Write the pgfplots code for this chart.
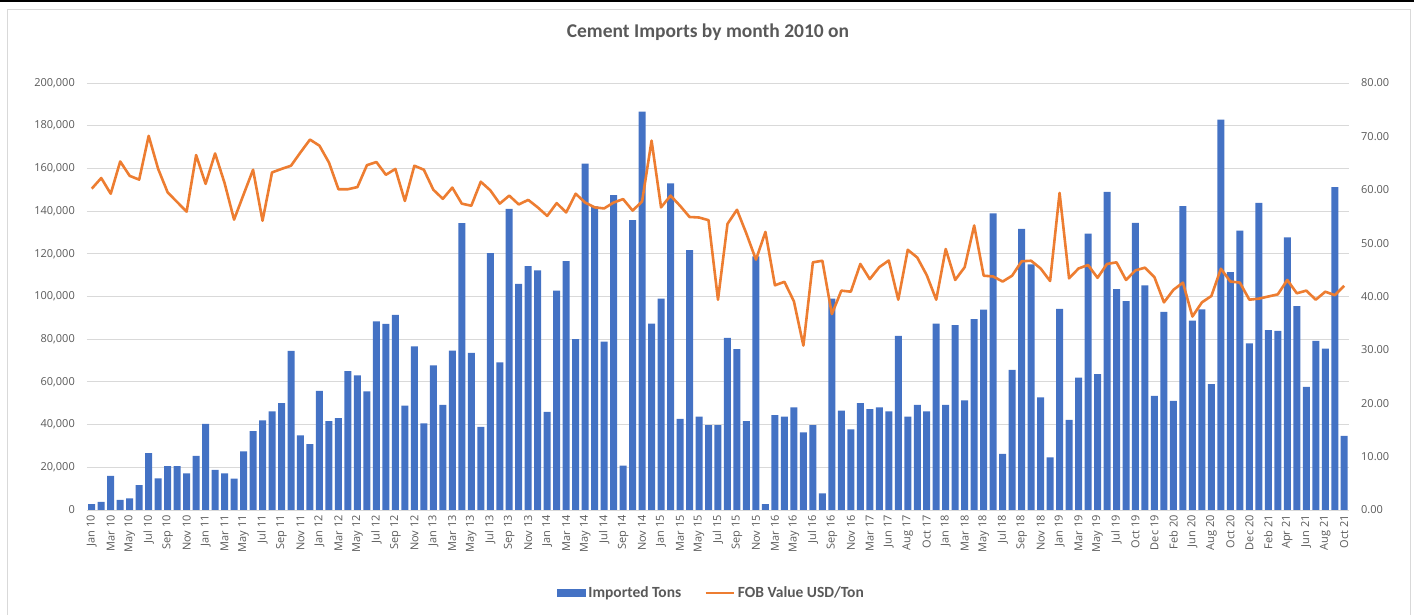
\documentclass[border=0pt]{standalone}
\usepackage{pgfplots}
\usepackage{pgfplotstable}
\pgfplotsset{compat=1.18}
\usepackage{fontspec}
\setmainfont{Carlito}
\newfontfamily\tickfont{Open Sans}
\definecolor{barblue}{HTML}{4472C4}
\definecolor{lineorange}{HTML}{ED7D31}
\definecolor{txtgray}{HTML}{595959}
\definecolor{gridgray}{HTML}{D9D9D9}
\pgfplotstableread{
i tons fob
0 2800 60.2
1 3750 62.2
2 16000 59.25
3 4700 65.3
4 5500 62.6
5 11600 61.9
6 26600 70.1
7 14800 63.9
8 20600 59.5
9 20500 57.7
10 17200 55.9
11 25300 66.5
12 40300 61.1
13 18750 66.8
14 17200 61.25
15 14700 54.4
16 27500 59.1
17 37000 63.75
18 42000 54.2
19 46250 63.25
20 50000 63.9
21 74500 64.5
22 35000 67
23 30900 69.4
24 55800 68.25
25 41600 65.1
26 43000 60.1
27 65000 60.1
28 63000 60.5
29 55600 64.6
30 88300 65.2
31 87200 62.8
32 91400 63.9
33 48900 57.9
34 76600 64.5
35 40600 63.75
36 67700 60
37 49200 58.3
38 74700 60.4
39 134400 57.4
40 73600 57
41 38900 61.5
42 120300 59.9
43 69200 57.4
44 141000 58.9
45 105900 57.25
46 114200 58.1
47 112200 56.7
48 45900 55.1
49 102800 57.5
50 116600 55.75
51 80000 59.25
52 162200 57.6
53 142200 56.7
54 78900 56.5
55 147500 57.6
56 20800 58.25
57 135800 56.1
58 186600 57.8
59 87300 69.2
60 99000 56.7
61 153000 58.9
62 42700 57
63 121700 54.9
64 43750 54.8
65 39700 54.3
66 39700 39.4
67 80600 53.6
68 75300 56.25
69 41600 51.75
70 118750 46.9
71 2700 52.1
72 44400 42.1
73 43750 42.75
74 48100 39.1
75 36400 30.8
76 39800 46.4
77 7800 46.7
78 99000 36.7
79 46600 41.1
80 37800 40.9
81 50000 46.1
82 47300 43.25
83 48100 45.5
84 46250 46.75
85 81600 39.4
86 43750 48.75
87 49200 47.3
88 46250 44
89 87300 39.4
90 49200 48.9
91 86600 43.1
92 51400 45.5
93 89400 53.3
94 93900 43.9
95 138900 43.75
96 26250 42.8
97 65600 43.9
98 131700 46.6
99 115000 46.7
100 52800 45.25
101 24700 42.9
102 94200 59.4
103 42200 43.4
104 62000 45.25
105 129500 45.9
106 63600 43.5
107 149000 46.1
108 103400 46.4
109 97800 43.1
110 134500 44.9
111 105200 45.4
112 53400 43.6
113 92800 38.9
114 51100 41.25
115 142300 42.6
116 88750 36.25
117 94000 38.9
118 58900 40.1
119 182800 45.2
120 111400 42.8
121 130800 42.6
122 78100 39.4
123 143900 39.6
124 84200 40
125 83900 40.4
126 127700 43.1
127 95500 40.6
128 57700 41.1
129 79200 39.4
130 75600 40.9
131 151250 40.25
132 34700 42
}\datatable
\pgfplotsset{
  common/.style={
    scale only axis, width=1262pt, height=427pt,
    at={(87pt,105pt)}, anchor=south west,
    xmin=-0.5, xmax=132.5,
    axis line style={draw=none},
    major tick length=0pt,
    tick label style={font=\tickfont\fontsize{11}{13}\selectfont, text=txtgray},
    /pgf/number format/assume math mode=true,
  }
}
\begin{document}
\begin{tikzpicture}
\path[use as bounding box] (0,0) rectangle (1414pt,615pt);
\draw[gridgray, line width=0.8pt] (7pt,0pt) -- (7pt,606pt) -- (1410pt,606pt) -- (1410pt,0pt);
\draw[black, line width=1.6pt] (0pt,614pt) -- (1414pt,614pt);
\node[font=\bfseries\fontsize{19.5}{22}\selectfont, text=txtgray] at (708pt,583pt) {Cement Imports by month 2010 on};
\begin{axis}[common,
  ymin=0, ymax=200000,
  ytick={0,20000,...,200000},
  scaled y ticks=false,
  yticklabel style={/pgf/number format/fixed, /pgf/number format/1000 sep={,}, inner sep=0pt, xshift=-12pt},
  ymajorgrids, grid style={gridgray, line width=0.9pt},
  xtick={0,2,...,132},
  xticklabels={Jan 10,Mar 10,May 10,Jul 10,Sep 10,Nov 10,Jan 11,Mar 11,May 11,Jul 11,Sep 11,Nov 11,Jan 12,Mar 12,May 12,Jul 12,Sep 12,Nov 12,Jan 13,Mar 13,May 13,Jul 13,Sep 13,Nov 13,Jan 14,Mar 14,May 14,Jul 14,Sep 14,Nov 14,Jan 15,Mar 15,May 15,Jul 15,Sep 15,Nov 15,Mar 16,May 16,Jul 16,Sep 16,Nov 16,Mar 17,Jun 17,Aug 17,Oct 17,Jan 18,Mar 18,May 18,Jul 18,Sep 18,Nov 18,Jan 19,Mar 19,May 19,Jul 19,Oct 19,Dec 19,Feb 20,Jun 20,Aug 20,Oct 20,Dec 20,Feb 21,Apr 21,Jun 21,Aug 21,Oct 21},
  xticklabel style={inner sep=0pt, yshift=-5pt, rotate=90, anchor=east},
  ytick pos=left,
]
\addplot[ybar, bar width=7pt, fill=barblue, draw=none, bar shift=0pt] table[x=i, y=tons] {\datatable};
\end{axis}
\begin{axis}[common,
  ymin=0, ymax=80,
  ytick={0,10,...,80},
  axis y line*=right,
  yticklabel style={/pgf/number format/fixed, /pgf/number format/fixed zerofill, /pgf/number format/precision=2, inner sep=0pt, xshift=12pt, anchor=west},
  xtick=\empty,
  legend columns=2,
  legend style={at={(0.494,-0.194)}, anchor=center, draw=none, fill=none,
    font=\bfseries\fontsize{15.5}{18}\selectfont, text=txtgray,
    inner sep=0pt,
    nodes={inner sep=0pt},
    /tikz/every odd column/.style={column sep=3pt},
    /tikz/every even column/.style={column sep=23pt}},
]
\addlegendimage{legend image code/.code={\fill[barblue] (0pt,-3.5pt) rectangle (28pt,3.5pt);}}
\addlegendentry{Imported Tons}
\addplot[lineorange, line width=2.6pt, line join=round, mark=none,
  legend image code/.code={\draw[lineorange, line width=2.6pt] (0pt,0pt) -- (28pt,0pt);}]
  table[x=i, y=fob] {\datatable};
\addlegendentry{FOB Value USD/Ton}
\end{axis}
\end{tikzpicture}
\end{document}
